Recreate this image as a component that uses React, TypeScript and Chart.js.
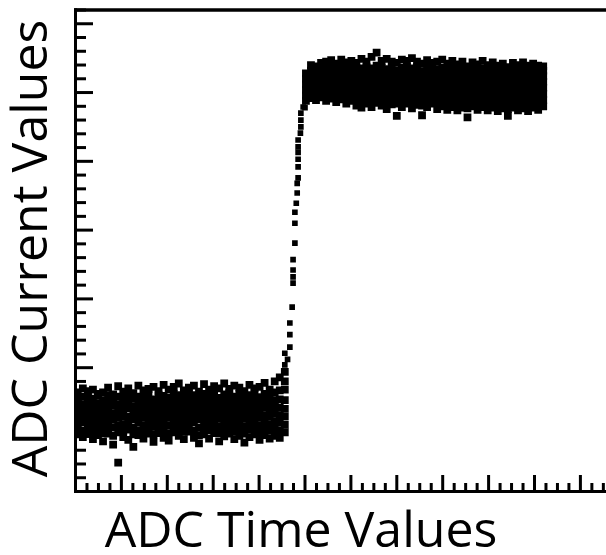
import { useEffect, useRef } from "react";
import { Chart, registerables } from "chart.js";

Chart.register(...registerables);

const X_TITLE = "ADC Time Values";
const Y_TITLE = "ADC Current Values";

const X_MIN = 0;
const X_MAX = 1200;
const X_MAJOR = 100;
const X_MINOR = 25;
const Y_MIN = -80;
const Y_MAX = 620;
const Y_MAJOR = 100;
const Y_MINOR = 20;

// low level (before the step): time columns and the current samples at each
const lowTime = [5, 16, 27, 38, 49, 60, 71, 82, 93, 104, 115, 126, 137, 148, 159, 170, 181, 192, 203, 214, 225, 236, 247, 258, 269, 280, 291, 302, 313, 324, 335, 346, 357, 368, 379, 390, 401, 412, 423, 434, 445, 456];
const lowCurrent = [
  [3, 12, 20, 30, 40, 49, 57, 64],
  [-1, 9, 21, 29, 38, 47, 58, 70],
  [5, 13, 22, 32, 41, 51, 60, 66],
  [-4, 6, 16, 26, 36, 45, 55, 68],
  [2, 12, 19, 29, 39, 48, 59, 62],
  [-7, 5, 15, 24, 34, 44, 53, 64],
  [4, 11, 22, 32, 41, 51, 60, 71],
  [-12, 1, 13, 24, 34, 45, 55, 61],
  [-38, 6, 16, 27, 36, 47, 58, 73],
  [-1, 8, 18, 29, 39, 49, 57, 65],
  [-5, 10, 20, 29, 41, 51, 60, 70],
  [-15, 3, 13, 25, 34, 44, 55, 63],
  [2, 9, 20, 30, 40, 49, 58, 74],
  [-3, 7, 16, 27, 37, 46, 57, 67],
  [4, 13, 22, 32, 41, 51, 61, 69],
  [-8, 3, 14, 24, 35, 45, 54, 72],
  [5, 14, 23, 32, 42, 52, 60, 66],
  [-2, 9, 19, 29, 39, 49, 59, 75],
  [-6, 5, 16, 27, 37, 47, 56, 68],
  [6, 14, 24, 34, 43, 53, 62, 72],
  [1, 10, 20, 30, 40, 50, 60, 77],
  [-4, 7, 17, 27, 37, 47, 57, 67],
  [7, 15, 24, 34, 44, 54, 63, 71],
  [-2, 8, 20, 30, 40, 50, 60, 74],
  [-10, 2, 13, 25, 35, 45, 55, 65],
  [3, 12, 22, 32, 42, 52, 62, 76],
  [-3, 9, 19, 29, 39, 49, 58, 68],
  [5, 14, 24, 34, 44, 54, 64, 73],
  [-7, 5, 15, 26, 36, 46, 56, 70],
  [0, 10, 20, 30, 41, 51, 61, 77],
  [4, 14, 24, 33, 44, 54, 63, 69],
  [-4, 7, 17, 28, 38, 48, 58, 74],
  [1, 11, 22, 32, 42, 52, 62, 71],
  [-9, 4, 15, 26, 36, 46, 56, 66],
  [-1, 10, 20, 30, 40, 50, 60, 75],
  [3, 13, 23, 33, 43, 54, 64, 70],
  [-5, 6, 16, 27, 37, 47, 57, 72],
  [2, 11, 21, 31, 42, 52, 62, 78],
  [-3, 8, 18, 29, 39, 49, 59, 68],
  [1, 12, 22, 33, 43, 53, 64, 80],
  [-2, 9, 20, 31, 42, 54, 67, 86],
  [6, 17, 29, 40, 53, 68, 80, 94],
];

// the rising edge
const stepTime = [456, 456, 462, 467, 467, 467, 472, 474, 474, 474, 474, 478, 478, 478, 481, 483, 483, 485, 485, 485, 485, 485, 485, 490, 491, 491, 491, 496, 500];
const stepCurrent = [104, 121, 112, 130, 148, 165, 188, 223, 232, 242, 257, 281, 310, 326, 339, 354, 368, 376, 392, 403, 413, 421, 431, 441, 450, 460, 470, 479, 478];

// high level (after the step)
const highTime = [502, 513, 524, 535, 546, 557, 568, 579, 590, 601, 612, 623, 634, 645, 656, 667, 678, 689, 700, 711, 722, 733, 744, 755, 766, 777, 788, 799, 810, 821, 832, 843, 854, 865, 876, 887, 898, 909, 920, 931, 942, 953, 964, 975, 986, 997, 1008, 1019];
const highCurrent = [
  [488, 496, 504, 512, 520, 528],
  [492, 499, 507, 516, 524, 532, 540],
  [489, 497, 505, 514, 522, 530, 538],
  [493, 500, 508, 517, 525, 533, 543],
  [488, 496, 504, 513, 521, 529, 537, 545],
  [491, 498, 506, 515, 523, 531, 539, 547],
  [486, 494, 502, 511, 519, 527, 535, 542],
  [490, 497, 505, 514, 522, 530, 538, 548],
  [484, 492, 500, 509, 517, 526, 535, 544],
  [488, 496, 504, 513, 521, 530, 538, 546],
  [481, 490, 499, 508, 517, 526, 535, 543],
  [478, 487, 497, 506, 516, 525, 535, 549],
  [484, 492, 501, 510, 519, 528, 537, 545],
  [479, 488, 497, 506, 516, 525, 535, 552],
  [485, 493, 502, 511, 520, 529, 539, 558],
  [481, 490, 499, 508, 518, 527, 536, 546],
  [476, 486, 495, 505, 514, 524, 534, 549],
  [483, 492, 501, 510, 519, 528, 537, 545],
  [466, 484, 493, 503, 512, 522, 532, 543],
  [479, 488, 498, 507, 517, 526, 536, 548],
  [484, 493, 502, 511, 520, 529, 538, 546],
  [477, 487, 496, 506, 515, 525, 535, 550],
  [482, 491, 500, 509, 519, 528, 537, 545],
  [467, 481, 491, 501, 511, 521, 531, 542],
  [479, 489, 498, 508, 517, 527, 536, 547],
  [484, 492, 501, 510, 519, 528, 537, 543],
  [476, 486, 495, 505, 515, 524, 534, 545],
  [480, 490, 499, 508, 518, 527, 536, 548],
  [475, 485, 494, 504, 514, 524, 533, 542],
  [479, 488, 498, 507, 517, 526, 536, 546],
  [474, 484, 494, 503, 513, 523, 532, 541],
  [478, 487, 497, 506, 516, 525, 535, 545],
  [464, 477, 487, 497, 507, 517, 527, 538],
  [480, 489, 498, 508, 517, 527, 536, 544],
  [475, 485, 495, 504, 514, 524, 533, 541],
  [479, 488, 498, 507, 517, 526, 535, 546],
  [474, 484, 494, 503, 513, 522, 532, 540],
  [478, 487, 497, 506, 516, 525, 534, 544],
  [473, 483, 493, 502, 512, 521, 531, 539],
  [477, 486, 496, 505, 515, 524, 533, 542],
  [466, 476, 486, 496, 506, 516, 526, 537],
  [478, 487, 497, 506, 515, 525, 534, 543],
  [474, 484, 494, 503, 513, 522, 532, 540],
  [477, 486, 496, 505, 515, 524, 533, 544],
  [473, 483, 493, 502, 512, 522, 531, 539],
  [478, 487, 497, 506, 515, 524, 534, 542],
  [475, 485, 494, 504, 513, 523, 532, 539],
  [480, 489, 498, 507, 516, 524, 532, 538],
];

function columnsToPoints(times: number[], currents: number[][]) {
  const pts: { x: number; y: number }[] = [];
  times.forEach((t, i) => currents[i].forEach((c) => pts.push({ x: t, y: c })));
  return pts;
}

const frameAndTitles = {
  id: "frameAndTitles",
  afterDraw(chart: any) {
    const { ctx, chartArea: a, scales } = chart;
    const xs = scales.x;
    const ys = scales.y;
    ctx.save();
    ctx.strokeStyle = "#000";
    ctx.lineCap = "butt";
    ctx.lineWidth = 3;
    ys.ticks.forEach((t: any) => {
      const v = Math.round(t.value);
      if (v === Y_MIN) return;
      const py = ys.getPixelForValue(t.value);
      const len = v % Y_MAJOR === 0 ? 17.5 : 10.5;
      ctx.beginPath();
      ctx.moveTo(a.left, py);
      ctx.lineTo(a.left + len, py);
      ctx.stroke();
    });
    xs.ticks.forEach((t: any) => {
      const v = Math.round(t.value);
      if (v === X_MIN) return;
      const px = xs.getPixelForValue(t.value);
      const len = v % X_MAJOR === 0 ? 16.5 : 8.5;
      ctx.beginPath();
      ctx.moveTo(px, a.bottom);
      ctx.lineTo(px, a.bottom - len);
      ctx.stroke();
    });
    // frame lines
    ctx.lineWidth = 3;
    ctx.beginPath();
    ctx.moveTo(a.left, a.top - 1.75);
    ctx.lineTo(a.left, a.bottom + 1.5);
    ctx.stroke();
    ctx.beginPath();
    ctx.moveTo(a.left - 1.5, a.bottom);
    ctx.lineTo(a.right + 20, a.bottom);
    ctx.stroke();
    ctx.lineWidth = 3.5;
    ctx.beginPath();
    ctx.moveTo(a.left - 1.5, a.top);
    ctx.lineTo(a.right + 20, a.top);
    ctx.stroke();
    // titles
    ctx.fillStyle = "#000";
    ctx.font = '50px "Open Sans"';
    ctx.textAlign = "center";
    ctx.textBaseline = "alphabetic";
    ctx.fillText(X_TITLE, 301, 547);
    ctx.translate(47, 248.5);
    ctx.rotate(-Math.PI / 2);
    ctx.fillText(Y_TITLE, 0, 0);
    ctx.restore();
  },
};

export default function App() {
  const ref = useRef<HTMLCanvasElement>(null);
  useEffect(() => {
    if (!ref.current) return;
    const base = {
      pointStyle: "rect" as const,
      pointBorderWidth: 0,
      backgroundColor: "#000",
      borderColor: "#000",
    };
    const chart = new Chart(ref.current, {
      type: "scatter",
      data: {
        datasets: [
          { label: "low", data: columnsToPoints(lowTime, lowCurrent), pointRadius: 5.5, ...base },
          { label: "step", data: stepTime.map((t, i) => ({ x: t, y: stepCurrent[i] })), pointRadius: 4, ...base },
          { label: "high", data: columnsToPoints(highTime, highCurrent), pointRadius: 5.5, ...base },
        ],
      },
      options: {
        animation: false,
        responsive: false,
        devicePixelRatio: 1,
        layout: { padding: { left: 75.5, top: 10, bottom: 63.5, right: 13.7 } },
        plugins: { legend: { display: false }, tooltip: { enabled: false } },
        scales: {
          x: {
            type: "linear",
            min: X_MIN,
            max: X_MAX,
            ticks: { display: false, stepSize: X_MINOR },
            grid: { display: false, drawTicks: false },
            border: { display: false },
          },
          y: {
            type: "linear",
            min: Y_MIN,
            max: Y_MAX,
            ticks: { display: false, stepSize: Y_MINOR },
            grid: { display: false, drawTicks: false },
            border: { display: false },
          },
        },
      },
      plugins: [frameAndTitles],
    });
    return () => chart.destroy();
  }, []);
  return (
    <div style={{ position: "absolute", left: 0, top: 0, width: 606, height: 555, overflow: "hidden", background: "#fff" }}>
      <canvas ref={ref} width={640} height={555} style={{ display: "block" }} />
    </div>
  );
}
